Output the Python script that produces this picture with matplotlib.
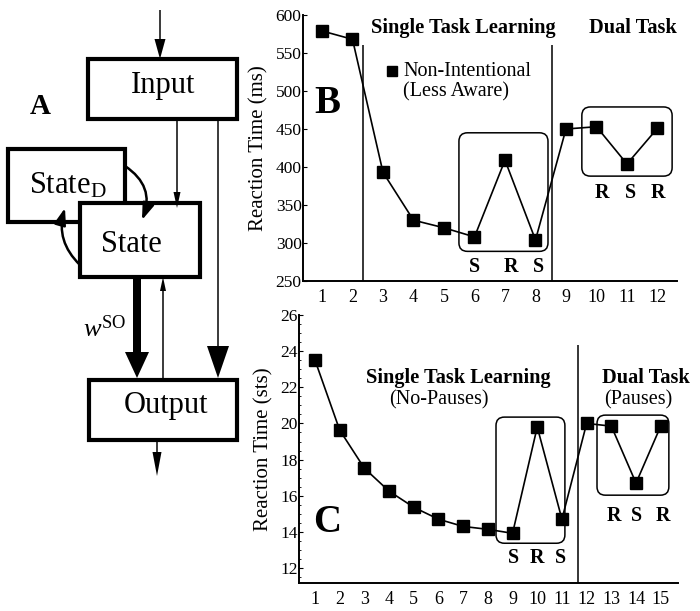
import numpy as np
import matplotlib.pyplot as plt
from matplotlib.patches import Rectangle, FancyBboxPatch, FancyArrowPatch

plt.rcParams['font.family'] = 'Liberation Serif'
plt.rcParams['mathtext.fontset'] = 'custom'
plt.rcParams['mathtext.rm'] = 'Liberation Serif'
plt.rcParams['mathtext.it'] = 'Liberation Serif:italic'

# panel B: non-intentional (less aware) subjects, reaction time in ms
blocks_b = np.arange(1, 13)
rt_b = [579, 568, 393, 330, 320, 308, 409, 304, 450, 453, 404, 451]
seq_b_single = ['S', 'R', 'S']
seq_b_dual = ['R', 'S', 'R']

# panel C: model reaction time in settling steps
blocks_c = np.arange(1, 16)
rt_c = [23.5, 19.63, 17.52, 16.25, 15.36, 14.7, 14.3, 14.14, 13.92,
        19.8, 14.7, 20.0, 19.85, 16.7, 19.85]
seq_c_single = ['S', 'R', 'S']
seq_c_dual = ['R', 'S', 'R']

W, H = 700, 611
fig = plt.figure(figsize=(7, 6.11), dpi=100)

# ---- A: network diagram, drawn in pixel units ----
ax0 = fig.add_axes([0, 0, 1, 1])
ax0.set_xlim(0, W)
ax0.set_ylim(H, 0)
ax0.axis('off')

def box(x0, y0, x1, y1):
    ax0.add_patch(Rectangle((x0, y0), x1 - x0, y1 - y0, fc='white',
                            ec='black', lw=3, zorder=3))

def arrow(x, y0, y1, shaft=1.5, hw=8, hl=14):
    ax0.arrow(x, y0, 0, y1 - y0, width=shaft, head_width=hw, head_length=hl,
              length_includes_head=True, fc='black', ec='none', zorder=4)

box(88, 59, 237, 119)
box(8, 149, 125, 222)
box(80, 203, 200, 277)
box(89, 380, 237, 440)

ax0.text(163, 86, 'Input', fontsize=22, ha='center', va='center', zorder=5)
ax0.text(68, 186, r'State$_{\mathrm{D}}$', fontsize=22, ha='center', va='center', zorder=5)
ax0.text(131, 245, 'State', fontsize=22, ha='center', va='center', zorder=5)
ax0.text(166, 405, 'Output', fontsize=22, ha='center', va='center', zorder=5)
ax0.text(40, 107, 'A', fontsize=21, fontweight='bold', ha='center', va='center')
ax0.text(83, 337, r'$w^{\mathrm{SO}}$', fontsize=19, ha='left', va='baseline')

arrow(160, 10, 59, hw=11, hl=20)
arrow(177, 119, 208, hw=7, hl=16)
arrow(218, 119, 378, hw=22, hl=32)
arrow(137, 277, 378, shaft=8, hw=24, hl=26)
arrow(163, 380, 277, hw=6, hl=14)
arrow(157, 440, 476, hw=9, hl=24)

# recurrent links between State and State_D
ax0.add_patch(FancyArrowPatch((125, 166), (142, 220),
                              connectionstyle='arc3,rad=-0.4',
                              arrowstyle='-|>,head_length=10,head_width=3.5',
                              lw=1.8, color='black', shrinkA=0, shrinkB=0, zorder=6))
ax0.add_patch(FancyArrowPatch((80, 265), (65, 208),
                              connectionstyle='arc3,rad=-0.3',
                              arrowstyle='-|>,head_length=10,head_width=3.5',
                              lw=1.8, color='black', shrinkA=0, shrinkB=0, zorder=6))


def style_axes(ax, ylabel):
    for side in ('top', 'right'):
        ax.spines[side].set_visible(False)
    for side in ('left', 'bottom'):
        ax.spines[side].set_linewidth(1.4)
    ax.set_facecolor('none')
    ax.tick_params(axis='x', length=0, labelsize=13, pad=6)
    ax.tick_params(axis='y', direction='in', length=3, labelsize=12.5, pad=1)
    ax.set_ylabel(ylabel, fontsize=15, labelpad=5)


def rounded_box(ax, x0, x1, y0, y1, rx, aspect):
    ax.add_patch(FancyBboxPatch((x0, y0), x1 - x0, y1 - y0,
                                boxstyle=f'round,pad=0,rounding_size={rx}',
                                mutation_aspect=aspect, fc='none',
                                ec='black', lw=1.1))


# ---- B ----
axb = fig.add_axes([303 / W, 1 - 281 / H, 374 / W, 266 / H])
axb.plot(blocks_b, rt_b, color='black', lw=1.2, marker='s', ms=8.5,
         mfc='black', mec='black')
axb.set_xlim(0.377, 12.64)
axb.set_ylim(250, 600)
axb.set_xticks(blocks_b)
axb.set_yticks(np.arange(250, 601, 50))
style_axes(axb, 'Reaction Time (ms)')
axb.vlines([2.34, 8.54], 250, 561, color='black', lw=1.1)
rounded_box(axb, 5.49, 8.41, 289, 445, 0.28, 40)
rounded_box(axb, 9.52, 12.48, 388, 479, 0.28, 40)
for xs, s in zip([6.0, 7.2, 8.1], seq_b_single):
    axb.text(xs, 268, s, fontsize=14.5, fontweight='bold', ha='center', va='center')
for xs, s in zip([10.18, 11.1, 12.0], seq_b_dual):
    axb.text(xs, 366, s, fontsize=14.5, fontweight='bold', ha='center', va='center')
axb.text(5.62, 583, 'Single Task Learning', fontsize=14.7, fontweight='bold',
         ha='center', va='center')
axb.text(11.2, 583, 'Dual Task', fontsize=14.7, fontweight='bold',
         ha='center', va='center')
axb.plot([3.29], [526], marker='s', ms=7, color='black', ls='none')
axb.text(3.66, 526, 'Non-Intentional', fontsize=14.5, ha='left', va='center')
axb.text(3.66, 499, '(Less Aware)', fontsize=14.5, ha='left', va='center')
axb.text(1.16, 484, 'B', fontsize=28, fontweight='bold', ha='center', va='center')

# ---- C ----
axc = fig.add_axes([299 / W, 1 - 583 / H, 379 / W, 268 / H])
axc.plot(blocks_c, rt_c, color='black', lw=1.2, marker='s', ms=8.5,
         mfc='black', mec='black')
axc.set_xlim(0.352, 15.7)
axc.set_ylim(11.17, 26)
axc.set_xticks(blocks_c)
axc.set_yticks(np.arange(12, 27, 2))
axc.set_yticks(np.arange(11.5, 26, 0.5), minor=True)
style_axes(axc, 'Reaction Time (sts)')
axc.tick_params(axis='y', which='minor', direction='in', length=1.5)
axc.vlines([11.65], 11.17, 24.34, color='black', lw=1.1)
rounded_box(axc, 8.33, 11.12, 13.37, 20.35, 0.34, 1.37)
rounded_box(axc, 12.42, 15.33, 16.03, 20.46, 0.34, 1.37)
for xs, s in zip([9.05, 10.0, 10.95], seq_c_single):
    axc.text(xs, 12.55, s, fontsize=14.5, fontweight='bold', ha='center', va='center')
for xs, s in zip([13.1, 14.0, 15.1], seq_c_dual):
    axc.text(xs, 14.9, s, fontsize=14.5, fontweight='bold', ha='center', va='center')
axc.text(6.8, 22.5, 'Single Task Learning', fontsize=14.7, fontweight='bold',
         ha='center', va='center')
axc.text(6.0, 21.3, '(No-Pauses)', fontsize=14.5, ha='center', va='center')
axc.text(14.4, 22.5, 'Dual Task', fontsize=14.7, fontweight='bold',
         ha='center', va='center')
axc.text(14.1, 21.3, '(Pauses)', fontsize=14.5, ha='center', va='center')
axc.text(1.5, 14.5, 'C', fontsize=28, fontweight='bold', ha='center', va='center')

fig.savefig('out.png', dpi=100)
